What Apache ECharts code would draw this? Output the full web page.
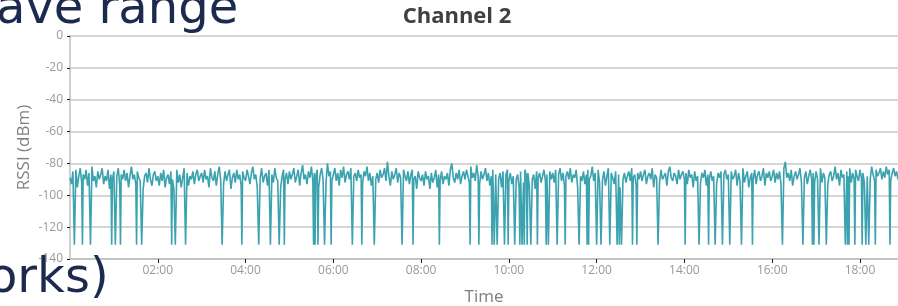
<!DOCTYPE html>
<html>
<head>
<meta charset="utf-8">
<script src="https://cdn.jsdelivr.net/npm/echarts@6/dist/echarts.min.js"></script>
<style>
  html, body { margin: 0; padding: 0; background: #fff; }
  #main { width: 898px; height: 306px; }
</style>
</head>
<body>
<div id="main"></div>
<script>
// RSSI baseline, one value every 2 minutes, one row per hour (00:00 .. 18:58)
const baseline = [
  -89,-93,-85,-91,-84,-95,-88,-83,-92,-87,-90,-84,-94,-86,-89,-82,-91,-88,-95,-85,-90,-87,-83,-93,-88,-91,-84,-96,-87,-90,
  -85,-92,-88,-83,-94,-87,-90,-84,-91,-86,-95,-88,-82,-90,-87,-93,-85,-89,-91,-84,-96,-88,-86,-92,-83,-90,-94,-87,-85,-91,
  -88,-94,-86,-91,-84,-95,-89,-87,-93,-85,-90,-96,-88,-84,-92,-87,-95,-89,-83,-91,-86,-94,-88,-90,-85,-93,-87,-84,-91,-88,
  -86,-92,-84,-90,-88,-95,-83,-89,-91,-85,-94,-87,-82,-90,-88,-93,-85,-91,-87,-84,-96,-89,-86,-92,-84,-90,-87,-94,-85,-89,
  -91,-84,-88,-93,-86,-82,-90,-87,-95,-85,-89,-83,-92,-88,-86,-94,-84,-90,-87,-92,-83,-89,-91,-85,-95,-88,-84,-90,-86,-93,
  -85,-90,-87,-83,-92,-88,-84,-94,-86,-81,-90,-87,-93,-85,-89,-82,-91,-86,-88,-84,-95,-87,-83,-90,-86,-92,-80,-88,-85,-91,
  -87,-83,-91,-86,-94,-84,-89,-82,-92,-87,-85,-90,-83,-95,-88,-86,-91,-84,-89,-87,-93,-85,-88,-82,-91,-86,-94,-88,-84,-90,
  -86,-92,-84,-89,-87,-83,-91,-79,-88,-94,-85,-90,-87,-83,-92,-86,-89,-95,-84,-88,-91,-85,-93,-87,-84,-90,-88,-96,-85,-89,
  -91,-87,-94,-85,-90,-88,-96,-86,-92,-89,-84,-95,-87,-91,-85,-93,-88,-90,-86,-94,-84,-80,-89,-92,-86,-90,-84,-93,-88,-85,
  -90,-84,-88,-92,-82,-89,-86,-91,-81,-88,-93,-85,-90,-87,-83,-91,-86,-94,-88,-84,-92,-87,-83,-90,-86,-95,-85,-89,-87,-84,
  -91,-86,-93,-88,-84,-90,-87,-95,-85,-89,-92,-84,-88,-86,-94,-83,-90,-87,-96,-85,-89,-86,-92,-88,-84,-91,-87,-93,-85,-90,
  -86,-92,-84,-89,-87,-83,-91,-86,-94,-88,-85,-90,-83,-92,-87,-89,-84,-95,-86,-88,-91,-85,-93,-87,-84,-90,-88,-82,-91,-86,
  -89,-84,-92,-87,-90,-85,-94,-88,-83,-91,-86,-89,-93,-85,-88,-87,-95,-84,-90,-86,-92,-88,-85,-91,-83,-89,-87,-94,-86,-90,
  -85,-91,-87,-84,-93,-88,-86,-90,-83,-95,-87,-89,-85,-92,-84,-90,-88,-86,-94,-85,-82,-89,-91,-86,-88,-93,-84,-90,-87,-85,
  -90,-86,-93,-84,-89,-87,-95,-85,-91,-88,-83,-92,-86,-89,-84,-94,-87,-90,-85,-91,-88,-83,-93,-86,-89,-85,-92,-87,-84,-90,
  -87,-93,-85,-90,-88,-84,-94,-86,-91,-87,-83,-92,-88,-85,-95,-89,-86,-90,-84,-93,-87,-85,-91,-88,-83,-94,-86,-89,-85,-91,
  -88,-84,-92,-86,-90,-85,-93,-87,-83,-79,-89,-86,-91,-84,-94,-88,-85,-90,-87,-83,-92,-86,-89,-85,-93,-88,-84,-90,-86,-92,
  -85,-90,-87,-83,-92,-86,-89,-84,-93,-87,-85,-91,-88,-82,-90,-86,-94,-84,-89,-87,-91,-85,-88,-83,-92,-86,-90,-84,-88,-91,
  -84,-89,-86,-92,-83,-88,-85,-90,-82,-87,-91,-84,-88,-86,-83,-90,-85,-89,-82,-87,-84,-91,-86,-83,-88,-85,-90,-84,-86,-83
];
const stepMin = 2;

// minutes after 00:00 where the signal drops out
const dropMinutes = [
  6, 17, 28, 57, 62, 69, 91, 98, 139, 144, 158, 208, 235, 258, 274, 286, 293,
  333, 335, 339, 348, 357, 386, 399, 416, 454, 469, 505, 547, 559, 577, 580,
  584, 594, 599, 608, 615, 618, 621, 625, 630, 639, 651, 654, 666, 677, 696,
  707, 709, 720, 726, 738, 748, 751, 754, 769, 775, 804, 841, 860, 873, 882,
  892, 902, 918, 933, 974, 1002, 1015, 1017, 1024, 1034, 1060, 1063, 1065,
  1073, 1083, 1088, 1092, 1101, 1121
];
const dropValue = -131;

const yTicks = { min: -140, max: 0, interval: 20 };
const xRange = { min: 0, max: 1132, interval: 120 };

// merge baseline and drop-outs into one time-ordered series
const points = new Map();
baseline.forEach((v, i) => points.set(i * stepMin, v));
dropMinutes.forEach(m => points.set(m, dropValue));
const seriesData = Array.from(points.entries()).sort((a, b) => a[0] - b[0]);

function fmtTime(m) {
  const h = Math.floor(m / 60), mm = m % 60;
  return String(h).padStart(2, '0') + ':' + String(mm).padStart(2, '0');
}

const chart = echarts.init(document.getElementById('main'), null, { renderer: 'canvas' });
const font = '"Open Sans", sans-serif';

chart.setOption({
  animation: false,
  backgroundColor: '#ffffff',
  grid: { left: 70, right: 0, top: 36, bottom: 47, containLabel: false, outerBoundsMode: 'none' },
  xAxis: {
    type: 'value',
    min: xRange.min,
    max: xRange.max,
    interval: xRange.interval,
    name: 'Time',
    nameLocation: 'middle',
    nameGap: 30,
    nameMoveOverlap: false,
    nameTextStyle: { color: '#7f7f7f', fontSize: 17, fontFamily: font },
    axisLine: { onZero: false, lineStyle: { color: '#bfbfbf', width: 1.5 } },
    axisTick: { show: true, length: 4, lineStyle: { color: '#222' } },
    axisLabel: {
      color: '#999999', fontSize: 12, fontFamily: font, margin: 6,
      showMinLabel: false, showMaxLabel: false,
      formatter: v => fmtTime(v)
    },
    splitLine: { show: false }
  },
  yAxis: {
    type: 'value',
    min: yTicks.min,
    max: yTicks.max,
    interval: yTicks.interval,
    name: 'RSSI (dBm)',
    nameLocation: 'middle',
    nameGap: 37,
    nameRotate: 90,
    nameMoveOverlap: false,
    nameTextStyle: { color: '#7f7f7f', fontSize: 17, fontFamily: font },
    axisLine: { show: true, lineStyle: { color: '#bfbfbf', width: 1.5 } },
    axisTick: { show: true, length: 3, lineStyle: { color: '#222' } },
    axisLabel: { color: '#999999', fontSize: 12, fontFamily: font, margin: 7 },
    splitLine: { show: true, lineStyle: { color: '#c8c8c8', width: 1.5 } }
  },
  series: [{
    type: 'line',
    data: seriesData,
    showSymbol: false,
    symbol: 'none',
    lineStyle: { color: '#3ba2af', width: 1.6 },
    clip: true
  }],
  graphic: [
    {
      type: 'text', x: 457, y: 6, z: 10,
      style: { text: 'Channel 2', font: 'bold 22px ' + font, fill: '#404040', align: 'center' }
    },
    {
      type: 'text', left: -4, top: -13, z: 20,
      style: { text: 'ave range', font: '48px "DejaVu Sans", sans-serif', fill: '#1b2a4e' }
    },
    {
      type: 'text', left: -12, top: 256, z: 20,
      style: { text: 'orks)', font: '48px "DejaVu Sans", sans-serif', fill: '#1b2a4e' }
    }
  ]
});
</script>
</body>
</html>
